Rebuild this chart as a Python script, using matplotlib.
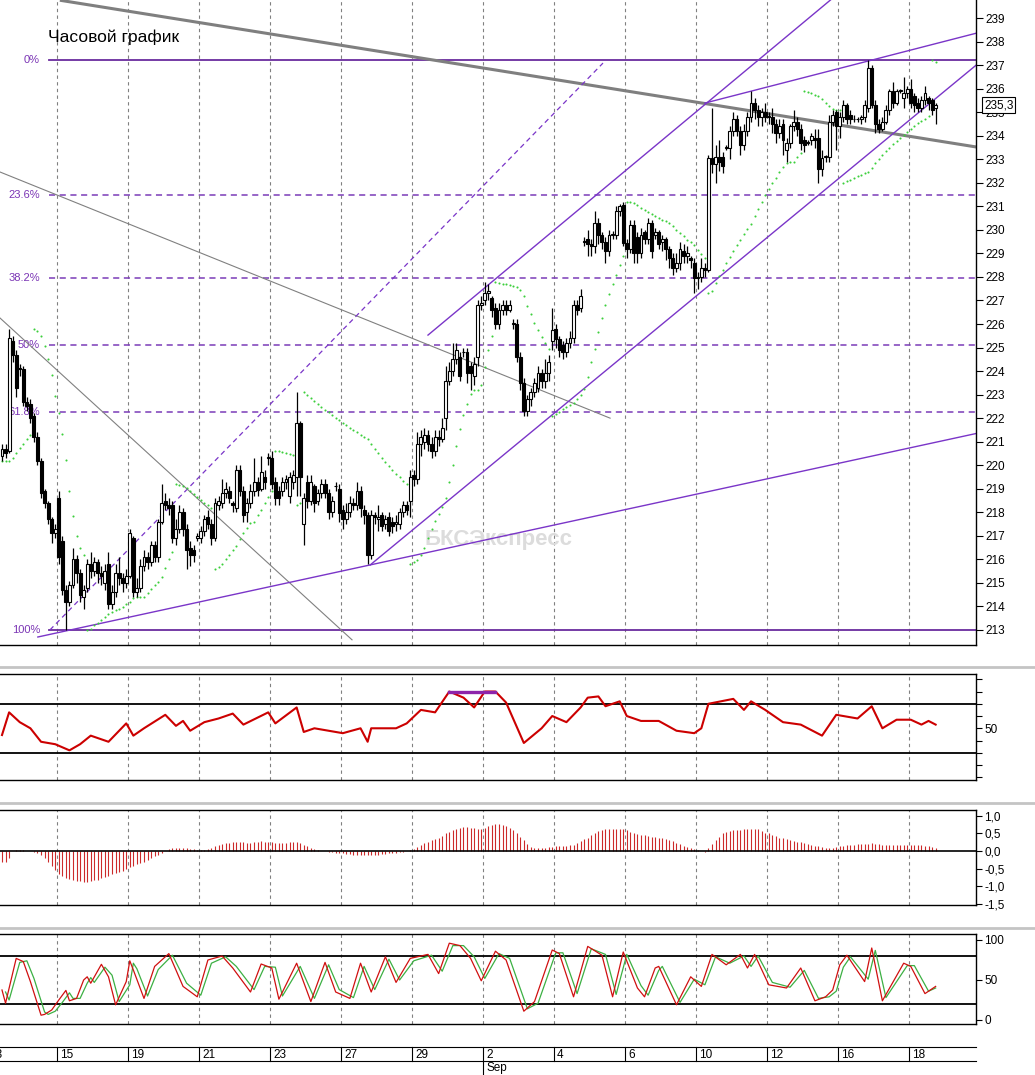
import numpy as np
import matplotlib
matplotlib.use('Agg')
import matplotlib.pyplot as plt
import matplotlib.transforms as mtransforms

plt.rcParams['font.family'] = ['Liberation Sans', 'DejaVu Sans']

# ---------------- data (hourly bars, bar index 4..267) ----------------
opens = [220.4, 220.7, 220.6, 225.3, 224.7, 224.1,
         224.1, 222.7, 222.6, 222.1, 221.2, 220.2, 218.9, 218.4, 217.7, 217.1,
         218.6, 216.8, 214.7, 214.2, 214.9, 216.0, 215.4, 214.4, 214.8, 215.8,
         215.5, 215.9, 215.4, 215.0, 215.8, 214.1, 214.6, 215.4, 215.2, 215.0,
         215.3, 216.9, 214.6, 214.8, 215.7, 216.1, 215.9, 216.6, 216.1, 217.6,
         218.5, 218.3, 218.3, 216.9, 217.3, 218.0, 217.3, 216.5, 216.4, 216.9,
         216.9, 217.2, 217.8, 217.5, 216.9, 218.3, 218.4, 218.8, 218.9, 218.4,
         218.2, 219.8, 218.9, 218.0, 218.4, 218.9, 219.3, 219.0, 219.5, 220.3,
         220.3, 219.3, 218.9, 218.9, 219.3, 218.7, 219.3, 219.5, 221.8, 217.5,
         219.3, 218.5, 219.1, 218.5, 218.8, 219.2, 218.8, 218.0, 219.1, 219.0,
         218.1, 217.7, 218.0, 218.4, 218.3, 218.9, 218.1, 217.9, 216.2, 217.9,
         217.7, 217.9, 217.5, 217.8, 217.6, 217.5, 217.5, 218.0, 218.3, 218.5,
         219.6, 219.4, 220.9, 221.0, 221.3, 220.9, 220.6, 221.2, 221.1, 222.0,
         223.6, 224.0, 224.5, 224.6, 224.8, 224.8, 224.2, 223.8, 224.6, 226.8,
         227.0, 227.3, 227.1, 226.7, 226.0, 226.6, 226.8, 226.6, 226.0, 226.0,
         224.6, 223.5, 222.3, 222.8, 223.1, 223.3, 223.9, 223.6, 223.9, 225.3,
         225.8, 225.35, 225.1, 224.8, 225.2, 225.4, 226.8, 226.7, 229.5, 229.6,
         229.4, 229.3, 230.3, 229.8, 229.5, 229.1, 229.8, 229.8, 230.8, 231.05,
         229.45, 229.2, 230.2, 229.7, 229.0, 229.9, 229.6, 230.3, 229.8, 229.9,
         229.5, 229.6, 229.2, 228.8, 228.4, 228.6, 229.1, 228.9, 228.8, 228.6,
         227.95, 228.0, 228.4, 228.3, 233.05, 232.8, 233.1, 233.1, 233.5, 233.5,
         234.2, 234.7, 234.2, 233.6, 234.2, 234.8, 235.4, 235.1, 234.8, 235.0,
         234.8, 234.8, 234.5, 234.1, 234.5, 233.4, 233.7, 234.4, 234.6, 234.3,
         233.8, 233.7, 233.8, 233.9, 233.9, 232.6, 233.1, 233.1, 234.6, 235.0,
         234.4, 234.8, 235.3, 234.9, 234.7, 234.7, 234.7, 234.8, 235.2, 236.9,
         235.3, 234.5, 234.3, 234.6, 235.1, 235.9, 235.4, 235.9, 235.6, 235.8,
         236.0, 235.7, 235.4, 235.2, 235.5, 235.6, 235.5, 235.2]
closes = [220.7, 220.5, 225.4, 224.7, 223.3, 224.1,
          222.7, 222.5, 222.0, 221.2, 220.2, 218.8, 218.4, 217.7, 217.1, 217.3,
          216.1, 214.7, 214.2, 214.9, 216.0, 215.4, 214.5, 214.7, 215.8, 215.5,
          215.9, 215.4, 215.3, 215.5, 214.1, 214.6, 215.4, 215.2, 215.0, 215.3,
          217.1, 214.6, 214.8, 215.7, 216.1, 215.9, 216.6, 216.1, 217.6, 218.4,
          218.3, 218.2, 216.9, 217.3, 218.0, 217.3, 216.4, 216.2, 216.2, 217.0,
          217.2, 217.7, 217.5, 216.9, 218.4, 218.5, 218.8, 219.0, 218.6, 218.3,
          219.8, 218.9, 217.9, 218.4, 218.9, 219.3, 218.95, 219.7, 219.3, 220.3,
          219.2, 218.6, 218.6, 219.3, 219.4, 219.5, 219.6, 221.8, 219.5, 218.6,
          218.5, 219.3, 218.4, 218.8, 219.2, 218.8, 218.0, 218.5, 219.1, 217.95,
          217.7, 218.0, 218.4, 218.3, 218.9, 218.2, 217.9, 216.2, 217.9, 217.8,
          217.8, 217.4, 217.7, 217.2, 217.4, 217.6, 218.0, 218.3, 218.1, 219.5,
          219.4, 220.9, 221.2, 221.3, 220.9, 220.6, 221.2, 221.1, 221.6, 223.6,
          224.0, 224.5, 224.9, 223.8, 224.8, 223.9, 223.9, 224.3, 226.8, 226.9,
          227.3, 227.4, 226.6, 226.0, 226.6, 226.8, 226.6, 226.8, 226.0, 224.6,
          223.5, 222.3, 222.8, 223.1, 223.5, 223.9, 223.6, 223.9, 224.4, 225.75,
          225.35, 224.9, 224.8, 225.2, 225.4, 226.8, 226.6, 227.2, 229.5, 229.4,
          229.3, 230.3, 229.8, 229.5, 229.1, 229.8, 229.8, 230.8, 231.0, 229.45,
          229.2, 230.2, 229.0, 229.0, 229.8, 229.6, 230.3, 229.1, 229.9, 229.4,
          229.6, 229.2, 228.8, 228.4, 228.6, 229.2, 228.9, 229.0, 228.7, 227.95,
          228.0, 228.4, 228.3, 233.05, 232.8, 233.1, 232.9, 232.7, 233.5, 234.2,
          234.7, 234.2, 233.6, 234.2, 234.8, 235.4, 235.1, 234.8, 235.0, 234.8,
          234.8, 234.5, 234.1, 234.4, 233.8, 233.7, 234.4, 234.6, 234.3, 233.7,
          233.6, 233.7, 234.0, 233.8, 232.6, 233.05, 233.1, 234.6, 234.9, 234.4,
          234.8, 235.3, 234.7, 234.7, 234.7, 234.7, 234.8, 235.3, 236.9, 235.3,
          234.5, 234.3, 234.6, 235.1, 235.9, 235.4, 235.9, 235.9, 235.8, 236.0,
          235.4, 235.3, 235.2, 235.5, 235.8, 235.4, 235.1, 235.3]
highs = [220.9, 220.9, 225.8, 225.5, 224.9, 224.3,
         224.2, 222.9, 222.8, 222.2, 221.4, 220.3, 219.0, 218.5, 217.8, 217.5,
         218.9, 217.0, 214.9, 215.1, 216.5, 216.2, 215.6, 214.9, 216.0, 216.3,
         216.1, 216.0, 215.7, 215.8, 216.3, 214.9, 215.8, 216.1, 215.4, 215.6,
         217.3, 217.0, 215.2, 216.0, 216.4, 216.3, 216.8, 216.8, 217.7, 219.2,
         218.8, 218.6, 218.5, 217.7, 218.3, 218.2, 217.5, 216.8, 216.6, 217.1,
         217.4, 217.9, 218.1, 217.7, 218.6, 218.7, 219.4, 219.3, 219.1, 218.5,
         220.0, 220.0, 219.1, 218.6, 219.2, 220.3, 219.5, 220.4, 219.8, 220.5,
         220.6, 219.5, 219.1, 219.5, 219.6, 219.7, 219.8, 223.1, 221.9, 218.8,
         219.6, 219.6, 219.2, 219.0, 219.4, 219.4, 219.0, 218.7, 219.3, 219.2,
         218.3, 218.4, 218.7, 218.6, 219.3, 219.1, 218.3, 218.0, 218.1, 218.0,
         218.3, 218.0, 217.9, 218.0, 217.8, 217.9, 218.2, 218.5, 218.5, 219.8,
         219.8, 221.4, 221.5, 221.6, 221.5, 221.2, 221.5, 221.5, 222.0, 224.2,
         224.4, 225.2, 225.2, 224.8, 225.0, 225.0, 224.4, 224.6, 227.0, 227.2,
         227.8, 227.7, 227.2, 226.9, 226.9, 227.0, 227.0, 227.0, 226.2, 226.2,
         224.8, 223.7, 223.0, 223.3, 223.7, 224.2, 224.1, 224.5, 224.7, 226.7,
         226.0, 225.5, 225.3, 225.4, 225.7, 227.0, 227.0, 227.5, 229.7, 230.0,
         229.6, 230.8, 230.5, 229.9, 229.7, 230.0, 229.95, 231.0, 231.1, 231.2,
         229.6, 230.4, 230.4, 229.9, 230.1, 230.0, 230.5, 230.4, 230.1, 230.0,
         229.8, 229.7, 229.3, 229.0, 229.0, 229.5, 229.4, 229.3, 228.9, 228.8,
         228.2, 228.8, 228.6, 233.2, 235.2, 233.6, 233.8, 233.3, 233.6, 234.4,
         235.0, 234.9, 234.4, 234.5, 235.0, 235.9, 235.6, 235.3, 235.2, 235.4,
         235.0, 235.2, 234.7, 234.7, 234.7, 233.9, 234.5, 235.1, 234.8, 234.5,
         234.0, 233.8, 234.1, 234.3, 234.3, 233.4, 233.2, 234.9, 235.1, 235.1,
         235.0, 235.5, 235.4, 235.1, 234.9, 234.8, 234.9, 235.5, 237.2, 237.0,
         235.5, 234.7, 234.8, 235.3, 236.0, 236.3, 236.0, 236.0, 236.5, 236.1,
         236.4, 235.8, 235.6, 235.7, 236.1, 235.7, 235.6, 235.4]
lows = [220.2, 220.3, 220.5, 224.4, 222.9, 223.8,
        222.5, 222.3, 221.8, 221.0, 220.0, 218.6, 218.2, 217.5, 216.7, 216.9,
        215.8, 214.5, 213.0, 214.0, 214.8, 215.0, 214.2, 213.9, 214.6, 215.2,
        215.3, 215.0, 214.9, 214.7, 213.9, 213.9, 214.4, 214.9, 214.6, 214.8,
        215.2, 214.4, 214.4, 214.6, 215.5, 215.6, 215.7, 215.9, 215.9, 217.5,
        218.1, 217.9, 216.7, 216.6, 217.1, 217.0, 215.6, 215.7, 215.9, 216.8,
        216.7, 217.0, 217.3, 216.6, 216.8, 218.1, 218.2, 218.6, 218.4, 218.0,
        218.0, 218.7, 217.6, 217.6, 218.2, 218.7, 218.7, 218.9, 219.0, 220.0,
        219.0, 218.3, 218.3, 218.7, 219.0, 218.4, 219.0, 218.7, 218.7, 216.6,
        218.2, 218.3, 218.0, 218.3, 218.6, 218.6, 217.7, 217.8, 218.9, 217.6,
        217.3, 217.5, 217.8, 218.1, 218.1, 217.8, 217.5, 215.8, 216.0, 217.5,
        217.2, 217.2, 217.3, 217.0, 217.1, 217.2, 217.3, 217.8, 217.9, 217.8,
        219.1, 219.2, 220.4, 220.7, 220.6, 220.3, 220.4, 220.8, 221.0, 221.5,
        223.4, 223.8, 224.3, 223.6, 224.6, 223.5, 223.2, 223.4, 224.2, 226.6,
        226.8, 227.0, 226.3, 225.8, 225.8, 226.4, 226.4, 226.5, 225.8, 224.4,
        223.2, 222.1, 222.1, 222.5, 222.9, 223.1, 223.3, 223.3, 223.6, 224.9,
        225.0, 224.6, 224.5, 224.6, 225.0, 225.2, 226.4, 226.5, 229.3, 228.9,
        228.9, 229.0, 229.4, 229.2, 228.6, 228.9, 229.6, 229.6, 230.6, 229.3,
        228.8, 229.0, 228.6, 228.6, 228.8, 229.4, 229.4, 228.8, 229.6, 229.2,
        229.1, 228.7, 228.4, 228.1, 228.2, 228.3, 228.6, 228.6, 228.4, 227.3,
        227.5, 227.8, 228.0, 228.2, 232.4, 232.0, 232.5, 232.4, 233.4, 233.0,
        234.0, 234.0, 233.2, 233.4, 234.0, 234.6, 234.7, 234.4, 234.4, 234.6,
        234.5, 234.1, 233.7, 233.9, 233.2, 232.9, 233.5, 234.2, 234.0, 233.4,
        233.3, 233.6, 233.6, 233.5, 232.0, 232.3, 232.9, 232.9, 234.4, 233.4,
        233.9, 234.6, 234.5, 234.5, 234.6, 234.6, 234.5, 234.6, 235.0, 235.2,
        234.1, 234.1, 234.2, 234.5, 234.9, 235.2, 235.3, 235.8, 235.2, 235.6,
        235.2, 235.0, 235.0, 235.0, 235.3, 235.1, 234.9, 234.5]
first_bar = 4

# MACD histogram, one value per bar
macd_hist = [-0.3, -0.32, -0.2, 0.0, 0.02, 0.02,
             0.02, 0.01, 0.0, -0.02, -0.06, -0.1, -0.2, -0.3, -0.42, -0.55,
             -0.65, -0.72, -0.77, -0.8, -0.83, -0.85, -0.86, -0.87, -0.87, -0.86,
             -0.84, -0.82, -0.78, -0.73, -0.7, -0.66, -0.62, -0.6, -0.57, -0.52,
             -0.46, -0.42, -0.38, -0.33, -0.3, -0.25, -0.2, -0.15, -0.1, -0.05,
             0.0, 0.05, 0.08, 0.1, 0.1, 0.1, 0.09, 0.07, 0.05, 0.03,
             0.02, 0.03, 0.06, 0.1, 0.14, 0.17, 0.2, 0.23, 0.24, 0.25,
             0.26, 0.26, 0.25, 0.23, 0.23, 0.25, 0.27, 0.28, 0.27, 0.26,
             0.25, 0.24, 0.23, 0.23, 0.24, 0.25, 0.26, 0.27, 0.24, 0.18,
             0.13, 0.08, 0.05, 0.03, 0.01, 0.0, -0.02, -0.04, -0.05, -0.06,
             -0.07, -0.08, -0.09, -0.1, -0.11, -0.11, -0.12, -0.12, -0.12, -0.11,
             -0.1, -0.09, -0.08, -0.07, -0.06, -0.05, -0.04, -0.02, 0.0, 0.03,
             0.06, 0.12, 0.18, 0.23, 0.27, 0.3, 0.33, 0.37, 0.43, 0.5,
             0.55, 0.6, 0.64, 0.67, 0.69, 0.69, 0.67, 0.65, 0.64, 0.64,
             0.66, 0.7, 0.74, 0.77, 0.77, 0.75, 0.72, 0.67, 0.6, 0.5,
             0.4, 0.3, 0.2, 0.12, 0.1, 0.09, 0.09, 0.1, 0.11, 0.12,
             0.13, 0.13, 0.14, 0.15, 0.16, 0.18, 0.22, 0.28, 0.33, 0.37,
             0.45, 0.52, 0.56, 0.59, 0.62, 0.63, 0.63, 0.64, 0.64, 0.63,
             0.6, 0.55, 0.5, 0.48, 0.46, 0.45, 0.43, 0.41, 0.39, 0.38,
             0.36, 0.34, 0.31, 0.28, 0.24, 0.2, 0.15, 0.12, 0.09, 0.07,
             0.04, 0.01, -0.03, 0.1, 0.21, 0.3, 0.4, 0.5, 0.55, 0.58,
             0.6, 0.6, 0.61, 0.62, 0.63, 0.64, 0.64, 0.62, 0.57, 0.52,
             0.5, 0.46, 0.42, 0.38, 0.36, 0.33, 0.3, 0.28, 0.26, 0.25,
             0.23, 0.2, 0.17, 0.14, 0.13, 0.11, 0.1, 0.09, 0.1, 0.12,
             0.13, 0.15, 0.16, 0.17, 0.18, 0.19, 0.2, 0.21, 0.21, 0.22,
             0.2, 0.19, 0.18, 0.17, 0.17, 0.18, 0.18, 0.17, 0.17, 0.16,
             0.16, 0.17, 0.17, 0.16, 0.15, 0.14, 0.12, 0.1]

# RSI (read at turning points)
rsi_bar = [4, 6, 9, 12, 15, 19, 23, 26, 29, 34, 39, 41, 44, 50, 53, 55, 57, 61, 65, 69,
           72, 79, 81, 87, 89, 92, 96, 100, 105, 107, 108, 115, 118, 122, 126, 130, 134,
           137, 140, 143, 146, 151, 156, 159, 163, 167, 169, 172, 174, 178, 180, 184,
           189, 194, 199, 201, 203, 210, 213, 215, 219, 224, 229, 235, 239, 245, 249,
           252, 256, 260, 263, 265, 267]
rsi_val = [44.5, 63, 55, 50, 39, 37, 32, 37, 44, 39, 54, 44, 50, 61, 52, 56, 48, 55, 58, 62,
           53, 63, 54, 67, 47, 50, 48, 46, 50, 39, 50, 50, 54, 65, 63, 80, 75,
           67, 80, 80, 71, 38, 50, 60, 55, 67, 75, 76, 68, 72, 60, 56,
           56, 48, 46, 50, 70, 74, 65, 72, 65, 55, 53, 44, 61, 58, 68,
           50, 57, 57, 53, 56, 53]
rsi_cap_bars = [130, 143]
rsi_cap_level = 80

# Stochastic %K (red) and %D (green)
stoch_k_bar = [4, 5, 8, 10, 12, 15, 16, 18, 20, 22, 23, 25, 27, 28, 29, 32, 34, 36, 39, 40,
               41, 44, 47, 51, 55, 59, 62, 66, 69, 74, 77, 80, 82, 87, 91, 95, 98, 102, 105, 108,
               112, 115, 119, 124, 127, 130, 133, 136, 139, 143, 146, 151, 154, 159, 161,
               165, 169, 173, 176, 179, 183, 185, 188, 189, 194, 198, 201, 204, 208, 212,
               214, 216, 220, 225, 229, 233, 236, 238, 240, 242, 247, 249, 252, 258, 260,
               264, 267]
stoch_k = [37.5, 21, 77, 73, 48, 6, 7, 12.5, 25, 37, 24, 27, 50, 54, 46, 69.6, 54, 19, 48, 74,
           62.5, 27, 67, 83, 42, 29, 75, 80, 65, 35, 70, 65, 26, 71, 23, 72, 35, 27, 71, 35,
           79, 47, 77, 82, 58, 96, 93, 77, 49, 86, 75, 11, 23, 87.5, 83,
           29, 92, 81, 29, 85, 40, 29, 65, 67, 19, 54, 42, 82, 69, 82,
           65, 82, 44, 40, 65, 24, 29, 37.5, 69, 81, 48, 90, 24, 71, 67,
           33, 42]
stoch_d_bar = [5, 6, 9, 11, 13, 16, 17, 19, 21, 23, 24, 26, 28, 29, 30, 33, 35, 37, 40, 41,
               42, 45, 48, 52, 56, 60, 63, 67, 70, 75, 78, 81, 83, 88, 92, 96, 99, 103, 106, 109,
               113, 116, 120, 125, 128, 131, 134, 137, 140, 144, 147, 152, 155, 160, 162,
               166, 170, 174, 177, 180, 184, 186, 189, 190, 195, 199, 202, 205, 209, 213,
               215, 217, 221, 226, 230, 234, 237, 239, 241, 243, 248, 250, 253, 259, 261,
               265, 267]
stoch_d = [35, 25, 72, 74, 52, 10, 7, 11, 22, 34, 27, 27, 46, 53, 47, 66, 56, 23, 44, 71,
           64, 30, 63, 81, 46, 31, 71, 79, 67, 38, 67, 66, 30, 67, 27, 69, 38, 28, 67, 38,
           76, 50, 74, 81, 61, 93, 93, 79, 52, 83, 77, 14, 21, 84, 84,
           33, 89, 82, 32, 82, 43, 31, 62, 67, 22, 51, 44, 79, 71, 80,
           67, 80, 47, 41, 62, 27, 29, 36, 66, 79, 51, 87, 28, 68, 68,
           36, 40]

# Fibonacci retracement
fib_high = 237.2
fib_low = 213.0
fib_ratios = [0, 23.6, 38.2, 50, 61.8, 100]
fib_start_bar = 17.2

# trend lines: (bar, price) endpoints
gray_thick_line = ([20.3, 278.6], [239.76, 233.52])
gray_thin_line1 = ([0.0, 175.3], [232.67, 222.0])
gray_thin_line2 = ([0.0, 102.6], [226.73, 212.58])
purple_dashed_line = ([17.5, 173.3], [213.0, 237.09])
purple_lines = [([14.1, 280.0], [212.7, 221.4]),
                ([107.7, 280.0], [215.76, 237.2]),
                ([124.0, 240.0], [225.53, 240.1]),
                ([202.0, 280.0], [235.39, 238.42])]

# calendar
day_labels = ['13', '15', '19', '21', '23', '27', '29', '2', '4', '6', '10', '12', '16', '18']
day_bars = [0, 20, 40, 60, 80, 100, 120, 140, 160, 180, 200, 220, 240, 260]
month_label = 'Sep'
month_bar = 140

price_ticks = list(range(213, 240))
title = 'Часовой график'
watermark = 'БКСЭкспресс'

# ---------------- helpers ----------------
def parabolic_sar(high, low, step=0.02, max_step=0.2):
    n = len(high)
    sar = np.zeros(n)
    up = True
    af = step
    ep = high[0]
    sar[0] = low[0]
    for i in range(1, n):
        prev = sar[i - 1]
        s = prev + af * (ep - prev)
        if up:
            s = min(s, low[i - 1], low[max(i - 2, 0)])
            if low[i] < s:
                up = False
                s = ep
                ep = low[i]
                af = step
            elif high[i] > ep:
                ep = high[i]
                af = min(af + step, max_step)
        else:
            s = max(s, high[i - 1], high[max(i - 2, 0)])
            if high[i] > s:
                up = True
                s = ep
                ep = high[i]
                af = step
            elif low[i] < ep:
                ep = low[i]
                af = min(af + step, max_step)
        sar[i] = s
    return sar

W, H = 1035, 1075
fig = plt.figure(figsize=(W / 100, H / 100), dpi=100)
fig.patch.set_facecolor('white')


def px_axes(l, t, r, b):
    return fig.add_axes([l / W, 1 - b / H, (r - l) / W, (b - t) / H])

X0, X1 = 3.437, 278.37
o = np.array(opens); c = np.array(closes); hi = np.array(highs); lo = np.array(lows)
bars = np.arange(first_bar, first_bar + len(c))
grid_kw = dict(color='#808080', lw=0.8, ls=(0, (3, 3)), zorder=0)
tick_font = 8.5

# ---------------- main price panel ----------------
ax = px_axes(0, 0, 976, 645)
ax.set_xlim(X0, X1)
ax.set_ylim(212.36, 239.77)
for b in day_bars:
    ax.axvline(b - 0.5, **grid_kw)

fib_col = '#6a2c9e'
rng = fib_high - fib_low
for r in fib_ratios:
    lvl = fib_high - r / 100 * rng
    solid = r in (0, 100)
    ax.plot([fib_start_bar, X1 + 5], [lvl, lvl], color=fib_col if solid else '#7b3cb8',
            lw=1.3 if solid else 1.1, ls='-' if solid else (0, (4, 3)), zorder=1)
    lab = '%g%%' % r
    ax.text(fib_start_bar - 2.5, lvl, lab, ha='right', va='center', fontsize=8,
            color='#7b35b5', zorder=1)

ax.plot(*gray_thick_line, color='#7f7f7f', lw=2.2, zorder=2, solid_capstyle='butt')
ax.plot(*gray_thin_line1, color='#808080', lw=0.8, zorder=2)
ax.plot(*gray_thin_line2, color='#808080', lw=0.8, zorder=2)
ax.plot(*purple_dashed_line, color='#7a35c8', lw=0.9, ls=(0, (4, 3)), zorder=2)
for xs, ys in purple_lines:
    ax.plot(xs, ys, color='#7a35c8', lw=1.0, zorder=2)

sar = parabolic_sar(hi, lo)
ax.plot(bars, sar, ls='none', marker='o', ms=1.5, mew=0, color='#3ccf3c', zorder=2)

ax.text(0.435, 0.163, watermark, transform=ax.transAxes, fontsize=16, fontweight='bold',
        color='#dcdcdc', va='center', ha='left', zorder=1)

up = c >= o
ax.vlines(bars, lo, hi, color='black', lw=0.9, zorder=3)
body_bottom = np.minimum(o, c)
body_h = np.maximum(np.abs(c - o), 0.03)
ax.bar(bars, body_h, bottom=body_bottom, width=0.82,
       color=np.where(up, 'white', 'black'), edgecolor='black', linewidth=0.8, zorder=4)

ax.yaxis.tick_right()
ax.set_yticks(price_ticks)
ax.set_yticklabels([str(t) for t in price_ticks])
ax.tick_params(axis='y', length=5, width=0.8, labelsize=tick_font, pad=2)
ax.set_xticks([])
for s in ('top', 'left'):
    ax.spines[s].set_visible(False)
ax.spines['right'].set_linewidth(1.0)
ax.spines['bottom'].set_linewidth(1.0)
trans = mtransforms.blended_transform_factory(ax.transAxes, ax.transData)
ax.text(1.0 + 8 / 976, c[-1], ('%.1f' % c[-1]).replace('.', ','), transform=trans,
        fontsize=tick_font, va='center', ha='left', zorder=10, clip_on=False,
        bbox=dict(boxstyle='square,pad=0.15', fc='white', ec='black', lw=0.8))

fig.text(48 / W, 1 - 37 / H, title, fontsize=12.5, va='center', ha='left')

# ---------------- separators ----------------
for yy in (667, 803, 928):
    fig.add_artist(plt.Line2D([0, 1], [1 - yy / H, 1 - yy / H], transform=fig.transFigure,
                              color='#c4c4c4', lw=2))


def style_ind(a):
    a.set_xlim(X0, X1)
    a.set_xticks([])
    a.yaxis.tick_right()
    a.spines['left'].set_visible(False)
    for s in ('top', 'right', 'bottom'):
        a.spines[s].set_linewidth(1.0)
    a.tick_params(axis='y', length=4, width=0.8, labelsize=tick_font, pad=2)
    for b in day_bars:
        a.axvline(b - 0.5, **grid_kw)

# ---------------- RSI ----------------
ar = px_axes(0, 674, 976, 780)
style_ind(ar)
ar.set_ylim(7.8, 94.3)
ar.axhline(70, color='black', lw=1.3)
ar.axhline(30, color='black', lw=1.3)
ar.plot(rsi_bar, rsi_val, color='#cc0000', lw=1.5, zorder=3)
ar.plot(rsi_cap_bars, [rsi_cap_level] * 2, color='#8e24aa', lw=2.4, zorder=4)
rt = list(range(10, 100, 10))
ar.set_yticks(rt)
ar.set_yticklabels(['50' if v == 50 else '' for v in rt])

# ---------------- MACD ----------------
am = px_axes(0, 810, 976, 905)
style_ind(am)
am.set_ylim(-1.54, 1.17)
am.vlines(bars, 0, macd_hist, color='#cc2a2a', lw=0.8, zorder=2)
am.axhline(0, color='black', lw=1.2, zorder=3)
mt = [1.0, 0.5, 0.0, -0.5, -1.0, -1.5]
am.set_yticks(mt)
am.set_yticklabels([('%.1f' % v).replace('.', ',') for v in mt])

# ---------------- Stochastic ----------------
ast = px_axes(0, 934, 976, 1024)
style_ind(ast)
ast.set_ylim(-5, 107.5)
ast.axhline(80, color='black', lw=1.3)
ast.axhline(20, color='black', lw=1.3)
ast.plot(stoch_d_bar, stoch_d, color='#3cb043', lw=0.9, zorder=3)
ast.plot(stoch_k_bar, stoch_k, color='#d01010', lw=0.9, zorder=4)
ast.set_yticks([0, 50, 100])
ast.set_yticklabels(['0', '50', '100'])

# ---------------- date axis ----------------
ad = px_axes(0, 1047, 976, 1061)
ad.set_xlim(X0, X1)
ad.set_ylim(0, 1)
ad.set_xticks([]); ad.set_yticks([])
ad.spines['left'].set_visible(False)
ad.spines['right'].set_visible(False)
for b, lab in zip(day_bars, day_labels):
    ad.plot([b - 0.5, b - 0.5], [0, 1], color='black', lw=0.8, clip_on=False)
    ad.text(b - 0.5 + 0.85, 0.45, lab, fontsize=tick_font, va='center', ha='left', clip_on=False)
ad.plot([month_bar - 0.5, month_bar - 0.5], [0, -1], color='black', lw=0.8, clip_on=False)
ad.text(month_bar - 0.5 + 0.85, -0.5, month_label, fontsize=tick_font, va='center', ha='left',
        clip_on=False)

fig.savefig('out.png', dpi=100, facecolor='white')
